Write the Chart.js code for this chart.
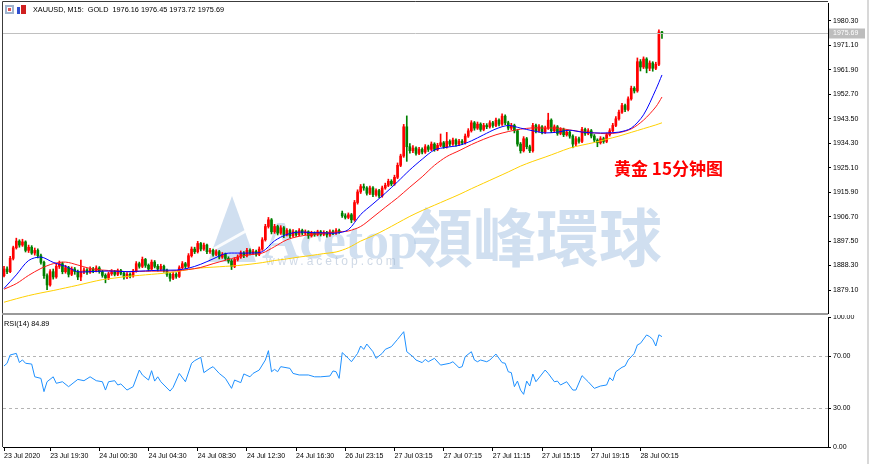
<!DOCTYPE html>
<html>
<head>
<meta charset="utf-8">
<script src="https://cdn.jsdelivr.net/npm/chart.js@4.4.0/dist/chart.umd.min.js"></script>
<style>
  body { margin: 0; background: #fff; width: 870px; height: 464px; overflow: hidden; position: relative; }
  canvas { position: absolute; left: 0; }
  #priceChart { top: 0; }
  #rsiChart { top: 315px; }
</style>
</head>
<body>
<canvas id="priceChart" width="870" height="315"></canvas>
<canvas id="rsiChart" width="870" height="149"></canvas>
<script>
// XAUUSD M15 - velas, medias moviles y RSI(14)
const opens = [
  1884.5,1887.0,1886.0,1891.0,1895.0,1897.5,1896.0,1897.2,1894.0,1895.2,
  1893.0,1894.0,1892.0,1889.5,1884.5,1881.0,1886.0,1884.0,1888.0,1889.0,
  1886.0,1887.5,1885.0,1887.0,1886.0,1884.0,1886.0,1886.6,1885.8,1887.0,
  1886.4,1887.4,1886.0,1884.6,1883.6,1885.2,1886.0,1885.0,1886.4,1885.4,
  1884.0,1885.0,1884.4,1886.2,1889.0,1888.0,1890.6,1888.4,1887.0,1889.6,
  1888.0,1887.0,1888.0,1886.5,1885.0,1883.5,1885.0,1884.2,1887.5,1889.0,
  1888.0,1892.0,1894.5,1893.5,1896.6,1894.5,1896.0,1893.5,1894.0,1892.5,
  1893.5,1891.5,1892.5,1891.0,1890.0,1888.0,1890.6,1891.5,1893.0,1892.0,
  1894.0,1893.0,1893.6,1892.5,1894.5,1898.0,1903.0,1905.5,1901.0,1903.0,
  1900.5,1902.5,1900.0,1901.5,1899.5,1901.0,1900.0,1901.5,1900.5,1901.0,
  1899.5,1900.5,1900.0,1901.0,1900.0,1900.8,1899.8,1901.0,1900.5,1901.5,
  1908.0,1907.0,1906.4,1907.4,1905.5,1912.0,1916.0,1918.0,1917.5,1915.5,
  1917.5,1915.0,1916.5,1914.5,1917.5,1918.5,1920.0,1919.0,1921.5,1926.0,
  1929.5,1940.5,1933.0,1931.5,1932.5,1930.5,1932.0,1931.0,1933.0,1932.0,
  1934.0,1932.0,1933.5,1934.5,1933.0,1935.0,1934.0,1935.5,1934.0,1935.0,
  1934.5,1937.0,1939.0,1942.0,1940.0,1941.5,1939.5,1941.0,1940.5,1942.0,
  1941.0,1943.0,1941.5,1944.5,1942.0,1940.0,1941.0,1939.0,1934.0,1931.5,
  1936.0,1933.0,1931.5,1941.0,1939.0,1940.5,1938.5,1940.0,1943.0,1939.0,
  1940.5,1938.0,1939.5,1937.5,1938.5,1937.0,1934.0,1936.0,1935.0,1939.5,
  1938.0,1939.0,1937.0,1935.5,1934.5,1936.0,1935.0,1937.5,1939.0,1941.0,
  1943.5,1946.0,1948.5,1947.0,1951.0,1955.0,1954.0,1965.0,1963.0,1966.0,
  1962.5,1964.5,1962.5,1964.0,1976.16
];
const highs = [
  1888.0,1887.8,1891.8,1895.6,1898.6,1898.0,1898.2,1897.6,1896.0,1895.8,
  1894.9,1894.6,1892.6,1890.0,1885.2,1886.8,1887.0,1889.0,1890.0,1889.6,
  1888.4,1888.0,1887.8,1887.6,1886.6,1890.4,1887.4,1887.2,1887.8,1887.6,
  1888.2,1887.9,1886.5,1885.2,1885.9,1886.8,1886.5,1887.0,1886.9,1885.9,
  1885.7,1885.6,1886.9,1889.8,1889.6,1891.5,1891.0,1888.9,1890.4,1890.2,
  1888.7,1888.8,1888.5,1887.0,1885.6,1885.8,1885.6,1888.2,1889.8,1889.5,
  1892.8,1895.3,1895.2,1897.4,1897.0,1896.8,1896.4,1894.8,1894.5,1894.2,
  1894.0,1893.2,1893.0,1891.6,1890.6,1891.3,1892.3,1893.8,1893.6,1894.8,
  1894.6,1894.4,1894.1,1895.3,1898.8,1903.8,1906.4,1906.0,1903.8,1903.5,
  1903.3,1903.0,1902.2,1902.0,1901.8,1901.5,1902.2,1902.0,1901.7,1901.4,
  1901.2,1901.0,1901.6,1901.5,1901.4,1901.2,1901.7,1901.6,1902.2,1902.0,
  1908.8,1907.8,1908.1,1907.9,1912.8,1916.8,1918.8,1919.0,1918.0,1918.2,
  1918.0,1917.2,1917.0,1918.2,1919.3,1920.8,1920.6,1922.3,1926.9,1930.2,
  1941.4,1944.6,1934.2,1933.4,1933.0,1932.8,1932.6,1933.8,1933.6,1934.8,
  1934.5,1934.3,1937.8,1935.0,1938.4,1935.6,1936.3,1936.0,1935.8,1935.7,
  1937.8,1939.8,1942.8,1942.5,1942.3,1942.0,1941.8,1941.7,1942.8,1942.6,
  1943.8,1943.5,1945.4,1945.0,1942.6,1941.8,1941.5,1939.5,1934.6,1936.8,
  1936.5,1933.6,1941.8,1941.5,1941.3,1941.0,1940.8,1945.6,1943.5,1941.2,
  1941.0,1940.2,1940.0,1939.2,1939.0,1937.5,1936.8,1936.6,1940.3,1940.0,
  1939.8,1939.5,1937.6,1936.0,1936.8,1936.6,1938.2,1939.8,1941.8,1944.3,
  1946.8,1949.3,1949.0,1951.8,1955.8,1955.6,1966.4,1965.8,1966.8,1966.5,
  1965.3,1965.0,1964.8,1977.0,1976.45
];
const lows = [
  1884.0,1885.2,1885.6,1890.4,1894.5,1895.2,1895.5,1893.4,1893.2,1892.5,
  1892.2,1891.2,1888.8,1883.5,1879.2,1880.5,1883.2,1883.5,1887.2,1885.2,
  1885.4,1884.0,1884.5,1885.0,1883.0,1882.6,1885.2,1885.0,1885.3,1885.6,
  1885.9,1885.4,1883.9,1881.8,1883.0,1884.6,1884.4,1884.5,1884.8,1883.2,
  1883.4,1883.6,1883.9,1885.8,1887.3,1887.5,1887.6,1886.3,1886.5,1887.4,
  1886.2,1886.4,1885.8,1884.2,1882.4,1883.0,1883.5,1883.8,1887.0,1887.2,
  1887.5,1891.5,1892.8,1893.0,1893.8,1894.0,1892.8,1892.9,1891.8,1892.0,
  1890.8,1891.0,1890.3,1889.2,1886.8,1887.5,1890.0,1891.0,1891.3,1891.5,
  1892.3,1892.4,1891.8,1892.0,1894.0,1897.5,1902.4,1900.2,1900.4,1899.8,
  1900.0,1898.8,1899.4,1898.8,1899.0,1899.3,1899.5,1899.9,1899.8,1898.5,
  1899.0,1899.3,1899.5,1899.4,1899.5,1899.0,1899.3,1899.9,1900.0,1900.4,
  1906.4,1905.8,1905.9,1904.4,1905.0,1911.4,1915.4,1916.6,1914.8,1915.0,
  1914.2,1914.4,1913.7,1914.0,1917.0,1918.0,1918.3,1918.5,1921.0,1925.5,
  1929.0,1927.5,1930.6,1930.8,1929.8,1930.0,1930.3,1930.5,1931.2,1931.5,
  1931.3,1931.5,1933.0,1932.4,1932.5,1933.2,1933.5,1933.2,1933.4,1933.8,
  1934.0,1936.5,1938.5,1939.2,1939.5,1938.8,1939.0,1939.8,1940.0,1940.3,
  1940.5,1940.8,1941.0,1941.3,1939.3,1939.4,1938.2,1933.2,1930.6,1931.0,
  1932.2,1930.8,1931.0,1938.2,1938.5,1937.8,1938.0,1939.5,1938.3,1938.4,
  1937.3,1937.5,1936.8,1937.0,1936.2,1932.6,1933.4,1934.3,1934.5,1937.3,
  1937.5,1936.3,1934.8,1933.0,1934.0,1934.3,1934.5,1937.0,1938.5,1940.5,
  1943.0,1945.5,1946.2,1946.5,1950.5,1953.2,1953.5,1961.5,1962.4,1960.8,
  1961.6,1961.4,1962.0,1963.5,1973.72
];
const closes = [
  1887.0,1886.0,1891.0,1895.0,1897.5,1896.0,1897.2,1894.0,1895.2,1893.0,
  1894.0,1892.0,1889.5,1884.5,1881.0,1886.0,1884.0,1888.0,1889.0,1886.0,
  1887.5,1885.0,1887.0,1886.0,1884.0,1886.0,1886.6,1885.8,1887.0,1886.4,
  1887.4,1886.0,1884.6,1883.6,1885.2,1886.0,1885.0,1886.4,1885.4,1884.0,
  1885.0,1884.4,1886.2,1889.0,1888.0,1890.6,1888.4,1887.0,1889.6,1888.0,
  1887.0,1888.0,1886.5,1885.0,1883.5,1885.0,1884.2,1887.5,1889.0,1888.0,
  1892.0,1894.5,1893.5,1896.6,1894.5,1896.0,1893.5,1894.0,1892.5,1893.5,
  1891.5,1892.5,1891.0,1890.0,1888.0,1890.6,1891.5,1893.0,1892.0,1894.0,
  1893.0,1893.6,1892.5,1894.5,1898.0,1903.0,1905.5,1901.0,1903.0,1900.5,
  1902.5,1900.0,1901.5,1899.5,1901.0,1900.0,1901.5,1900.5,1901.0,1899.5,
  1900.5,1900.0,1901.0,1900.0,1900.8,1899.8,1901.0,1900.5,1901.5,1901.0,
  1907.0,1906.4,1907.4,1905.5,1912.0,1916.0,1918.0,1917.5,1915.5,1917.5,
  1915.0,1916.5,1914.5,1917.5,1918.5,1920.0,1919.0,1921.5,1926.0,1929.5,
  1940.5,1933.0,1931.5,1932.5,1930.5,1932.0,1931.0,1933.0,1932.0,1934.0,
  1932.0,1933.5,1934.5,1933.0,1935.0,1934.0,1935.5,1934.0,1935.0,1934.5,
  1937.0,1939.0,1942.0,1940.0,1941.5,1939.5,1941.0,1940.5,1942.0,1941.0,
  1943.0,1941.5,1944.5,1942.0,1940.0,1941.0,1939.0,1934.0,1931.5,1936.0,
  1933.0,1931.5,1941.0,1939.0,1940.5,1938.5,1940.0,1943.0,1939.0,1940.5,
  1938.0,1939.5,1937.5,1938.5,1937.0,1934.0,1936.0,1935.0,1939.5,1938.0,
  1939.0,1937.0,1935.5,1934.5,1936.0,1935.0,1937.5,1939.0,1941.0,1943.5,
  1946.0,1948.5,1947.0,1951.0,1955.0,1954.0,1965.0,1963.0,1966.0,1962.5,
  1964.5,1962.5,1964.0,1976.2,1975.69
];

// medias moviles leidas cada 4 barras
const maBars = [
  0,4,8,12,16,20,24,28,32,36,40,44,48,52,56,60,64,68,72,76,80,84,88,92,96,100,104,108,
  112,116,120,124,128,132,136,140,144,148,152,156,160,164,168,172,176,180,184,188,192,196,
  200,204,208,212,214
];
const blueMA = [
  1879.7,1884.8,1890.2,1891.5,1889.5,1888.0,1886.0,1886.0,1886.2,1886.2,
  1886.0,1886.2,1886.4,1886.6,1886.6,1887.3,1888.8,1890.8,1892.8,1893.0,
  1893.0,1893.5,1897.6,1900.0,1900.9,1900.7,1900.6,1900.5,1901.8,1907.5,
  1911.5,1915.5,1919.8,1924.3,1928.3,1931.8,1932.8,1933.5,1935.2,1937.5,
  1939.7,1941.0,1940.0,1939.0,1938.2,1938.5,1939.2,1938.5,1938.2,1938.2,
  1938.5,1940.0,1945.0,1954.5,1960.0
];
const redMA = [
  1879.4,1881.5,1884.6,1887.2,1889.0,1889.6,1888.5,1887.2,1886.6,1886.3,
  1886.0,1886.1,1886.2,1886.2,1886.4,1886.8,1887.6,1889.0,1890.3,1891.5,
  1892.4,1893.0,1895.4,1898.0,1899.3,1900.0,1900.5,1900.9,1901.3,1903.0,
  1906.5,1910.2,1913.8,1917.8,1921.7,1926.0,1929.3,1931.5,1933.8,1935.8,
  1937.5,1938.7,1939.6,1940.1,1940.0,1940.0,1939.3,1938.6,1938.2,1937.9,
  1938.3,1939.7,1943.0,1948.0,1951.7
];
const yellowMA = [
  1874.5,1875.8,1877.0,1878.0,1878.9,1879.9,1880.9,1882.0,1883.0,1883.6,
  1884.2,1884.6,1885.0,1885.4,1886.0,1886.8,1887.4,1887.7,1888.0,1888.3,
  1888.8,1889.4,1890.2,1890.8,1891.5,1892.1,1892.8,1893.4,1895.0,1897.5,
  1899.5,1901.8,1904.3,1906.8,1909.0,1911.0,1913.0,1915.0,1917.2,1919.3,
  1921.4,1923.5,1925.7,1927.5,1929.1,1930.8,1932.5,1933.6,1934.6,1935.8,
  1937.0,1938.4,1939.8,1941.2,1942.0
];

// RSI(14)
const rsiBars = [
  0,1,2,4,5,6,7,9,10,12,13,14,16,17,19,21,24,26,28,30,32,33,34,36,37,38,40,42,44,45,
  47,48,49,50,51,54,55,57,59,61,62,64,65,67,68,70,72,74,75,77,78,80,81,83,85,86,87,88,89,90,
  93,94,96,99,101,103,106,107,108,109,110,112,113,115,116,117,118,120,121,123,124,126,128,130,131,133,134,136,137,138,
  140,142,145,146,148,149,150,152,153,154,155,157,158,160,162,163,164,165,166,167,168,169,170,171,172,173,176,177,179,180,
  181,183,185,186,188,190,192,194,196,197,198,199,201,202,203,205,206,207,209,210,211,212,213,214
];
const rsiValues = [
  62.3,64.4,70.8,72.0,65.0,67.0,64.4,63.8,54.0,52.8,42.6,50.2,54.0,49.0,50.2,46.4,52.0,51.0,54.0,51.0,50.2,43.8,50.2,51.0,47.7,48.5,43.8,46.4,59.2,55.4,
  51.5,58.7,50.7,54.0,50.2,43.0,45.9,56.6,50.2,64.4,66.4,69.0,57.2,60.5,61.8,56.6,52.8,45.1,51.5,49.5,56.2,54.0,56.6,59.2,66.9,74.1,57.9,59.7,57.9,61.8,
  60.5,56.6,55.4,55.4,54.0,54.0,54.6,58.5,57.9,52.8,72.6,68.2,65.6,72.0,77.7,75.1,79.2,73.3,68.2,72.0,75.1,77.2,82.8,88.7,73.3,69.5,66.9,64.9,67.4,65.6,
  68.2,63.0,64.4,65.6,61.0,61.8,69.5,73.3,66.9,65.6,66.9,65.6,66.9,71.5,64.9,64.4,57.9,57.2,46.4,50.7,43.8,40.5,50.7,46.9,56.1,50.2,59.2,56.6,50.2,50.7,
  47.7,50.2,43.8,43.8,54.9,50.2,45.1,46.9,47.7,53.3,51.0,57.9,61.3,62.3,66.9,72.0,78.5,79.7,86.2,84.9,82.8,77.7,86.3,84.89
];

// etiquetas de ejes
const priceTicks = [1879.10, 1888.30, 1897.50, 1906.70, 1915.90, 1925.10, 1934.30, 1943.50, 1952.70, 1961.90, 1971.10, 1980.30];
const rsiTicks = [0, 30, 70, 100];
const rsiLevels = [70, 30];
const timeBars = [0, 15, 31, 47, 63, 79, 95, 111, 127, 143, 159, 175, 191, 207];
const timeLabels = ["23 Jul 2020", "23 Jul 19:30", "24 Jul 00:30", "24 Jul 04:30", "24 Jul 08:30", "24 Jul 12:30",
  "24 Jul 16:30", "26 Jul 23:15", "27 Jul 03:15", "27 Jul 07:15", "27 Jul 11:15", "27 Jul 15:15", "27 Jul 19:15", "28 Jul 00:15"];

const UP = '#ff0000';
const DOWN = '#008000';
const X_MIN = -0.33, X_MAX = 268;
const FONT = '"Liberation Sans", Arial, sans-serif';

const candleColors = closes.map((c, i) => c >= opens[i] ? UP : DOWN);
const bodyData = closes.map((c, i) => ({x: i, y: [opens[i], c]}));
const wickData = closes.map((c, i) => ({x: i, y: [lows[i], highs[i]]}));
const maLine = (vals) => maBars.map((b, k) => ({x: b, y: vals[k]}));

// cosas de MT4 dibujadas a mano: marco, titulo, precio actual, marca de agua
const pricePanel = {
  id: 'pricePanel',
  beforeDatasetsDraw(chart) {
    const ctx = chart.ctx;
    ctx.save();
    // marca de agua
    ctx.fillStyle = 'rgba(150,185,222,0.45)';
    ctx.beginPath();
    ctx.moveTo(208, 262); ctx.lineTo(232, 196); ctx.lineTo(256, 262); ctx.closePath();
    ctx.fill();
    ctx.strokeStyle = 'rgba(255,255,255,0.9)';
    ctx.lineWidth = 3;
    ctx.beginPath(); ctx.moveTo(212, 250); ctx.lineTo(262, 222); ctx.stroke();
    ctx.fillStyle = 'rgba(150,185,222,0.45)';
    ctx.textBaseline = 'alphabetic';
    ctx.font = 'bold 52px "Liberation Serif", serif';
    ctx.fillText('Acetop', 262, 258);
    ctx.font = 'bold 63px "Noto Sans CJK TC", sans-serif';
    ctx.fillText('領峰環球', 410, 261);
    ctx.fillStyle = 'rgba(160,180,205,0.5)';
    ctx.font = '12px ' + FONT;
    ctx.letterSpacing = '3px';
    ctx.fillText('www.acetop.com', 266, 265);
    ctx.restore();
  },
  afterDraw(chart) {
    const ctx = chart.ctx;
    const a = chart.chartArea;
    const y = chart.scales.y;
    ctx.save();
    // marco
    ctx.strokeStyle = '#3c3c3c';
    ctx.lineWidth = 1;
    ctx.beginPath();
    ctx.moveTo(2.5, 315); ctx.lineTo(2.5, 1.5); ctx.lineTo(a.right, 1.5);
    ctx.stroke();
    ctx.fillStyle = '#9a9a9a';
    ctx.fillRect(2, 313, a.right - 2, 2);
    ctx.fillStyle = '#d8d8d8';
    ctx.fillRect(867, 0, 2, 315);
    // linea del precio actual
    const last = closes[closes.length - 1];
    const py = Math.round(y.getPixelForValue(last)) + 0.5;
    ctx.strokeStyle = '#c0c0c0';
    ctx.beginPath(); ctx.moveTo(a.left, py); ctx.lineTo(a.right, py); ctx.stroke();
    ctx.fillStyle = '#bdbdbd';
    ctx.fillRect(a.right + 1, py - 5, 36, 10);
    ctx.fillStyle = '#fff';
    ctx.font = '7px ' + FONT;
    ctx.textBaseline = 'middle';
    ctx.fillText(last.toFixed(2), a.right + 5, py);
    // iconos y titulo
    ctx.fillStyle = '#9fb3cf'; ctx.fillRect(5, 5, 9, 9);
    ctx.fillStyle = '#fff'; ctx.fillRect(7, 7, 5, 5);
    ctx.fillStyle = '#e05050'; ctx.fillRect(8, 8, 3, 3);
    ctx.fillStyle = '#3050d0'; ctx.fillRect(17, 7, 3, 7);
    ctx.fillStyle = '#d02020'; ctx.fillRect(21, 5, 5, 9);
    ctx.fillStyle = '#000';
    ctx.font = '7.3px ' + FONT;
    ctx.fillText('XAUUSD, M15:  GOLD  1976.16 1976.45 1973.72 1975.69', 33, 10);
    // rotulo en rojo
    ctx.fillStyle = '#ff0000';
    ctx.font = 'bold 17px "Noto Sans CJK SC", sans-serif';
    ctx.fillText('黄金 15分钟图', 614, 169);
    ctx.restore();
  }
};

const rsiPanel = {
  id: 'rsiPanel',
  beforeDatasetsDraw(chart) {
    const ctx = chart.ctx;
    const a = chart.chartArea;
    const y = chart.scales.y;
    ctx.save();
    ctx.strokeStyle = '#b4b4b4';
    ctx.setLineDash([3, 3]);
    ctx.lineWidth = 1;
    rsiLevels.forEach(v => {
      const py = Math.round(y.getPixelForValue(v)) + 0.5;
      ctx.beginPath(); ctx.moveTo(a.left, py); ctx.lineTo(a.right, py); ctx.stroke();
    });
    ctx.restore();
  },
  afterDraw(chart) {
    const ctx = chart.ctx;
    const a = chart.chartArea;
    ctx.save();
    ctx.strokeStyle = '#3c3c3c';
    ctx.beginPath(); ctx.moveTo(2.5, 0); ctx.lineTo(2.5, a.bottom); ctx.stroke();
    ctx.fillStyle = '#000';
    ctx.font = '7.3px ' + FONT;
    ctx.textBaseline = 'middle';
    ctx.fillText('RSI(14) ' + rsiValues[rsiValues.length - 1].toFixed(2), 4, 9);
    ctx.fillStyle = '#d8d8d8';
    ctx.fillRect(867, 0, 2, 149);
    ctx.restore();
  }
};

const tickFont = {family: FONT, size: 7};

new Chart(document.getElementById('priceChart'), {
  type: 'bar',
  data: {
    datasets: [
      {type: 'line', data: maLine(blueMA), borderColor: '#0000ff', borderWidth: 1, pointRadius: 0, tension: 0.3, order: 0},
      {type: 'line', data: maLine(redMA), borderColor: '#ff1a1a', borderWidth: 1, pointRadius: 0, tension: 0.3, order: 0},
      {type: 'line', data: maLine(yellowMA), borderColor: '#ffd000', borderWidth: 1, pointRadius: 0, tension: 0.3, order: 0},
      {data: bodyData, backgroundColor: candleColors, barThickness: 2, minBarLength: 1, grouped: false, order: 2},
      {data: wickData, backgroundColor: candleColors, barThickness: 1, grouped: false, order: 3}
    ]
  },
  options: {
    responsive: false,
    animation: false,
    devicePixelRatio: 1,
    layout: {padding: {left: 3, top: 3, bottom: 2, right: 0}},
    plugins: {legend: {display: false}, tooltip: {enabled: false}},
    scales: {
      x: {type: 'linear', min: X_MIN, max: X_MAX, offset: false, display: false},
      y: {
        position: 'right',
        min: 1870.45,
        max: 1987.07,
        afterBuildTicks: s => { s.ticks = priceTicks.map(v => ({value: v})); },
        afterFit: s => { s.width = 42; s.paddingTop = 0; s.paddingBottom = 0; },
        ticks: {callback: v => v.toFixed(2), font: tickFont, color: '#000', padding: 2},
        grid: {drawOnChartArea: false, drawTicks: true, tickLength: 3, color: '#000'},
        border: {display: true, color: '#000'}
      }
    }
  },
  plugins: [pricePanel]
});

new Chart(document.getElementById('rsiChart'), {
  type: 'line',
  data: {
    datasets: [
      {data: rsiBars.map((b, k) => ({x: b, y: rsiValues[k]})), borderColor: '#1e90ff', borderWidth: 1, pointRadius: 0}
    ]
  },
  options: {
    responsive: false,
    animation: false,
    devicePixelRatio: 1,
    layout: {padding: {left: 3, top: 2, bottom: 0, right: 0}},
    plugins: {legend: {display: false}, tooltip: {enabled: false}},
    scales: {
      x: {
        type: 'linear', min: X_MIN, max: X_MAX, offset: false,
        afterBuildTicks: s => { s.ticks = timeBars.map(v => ({value: v})); },
        afterFit: s => { s.height = 17; s.paddingLeft = 0; s.paddingRight = 0; },
        ticks: {callback: (v, i) => timeLabels[i], autoSkip: false, maxRotation: 0, align: 'start', font: tickFont, color: '#000', padding: 1},
        grid: {drawOnChartArea: false, drawTicks: true, tickLength: 4, color: '#000'},
        border: {display: true, color: '#000'}
      },
      y: {
        position: 'right',
        min: 0,
        max: 100,
        afterBuildTicks: s => { s.ticks = rsiTicks.map(v => ({value: v})); },
        afterFit: s => { s.width = 42; s.paddingTop = 0; s.paddingBottom = 0; },
        ticks: {callback: v => v.toFixed(2), font: tickFont, color: '#000', padding: 2},
        grid: {drawOnChartArea: false, drawTicks: true, tickLength: 3, color: '#000'},
        border: {display: true, color: '#000'}
      }
    }
  },
  plugins: [rsiPanel]
});
</script>
</body>
</html>
